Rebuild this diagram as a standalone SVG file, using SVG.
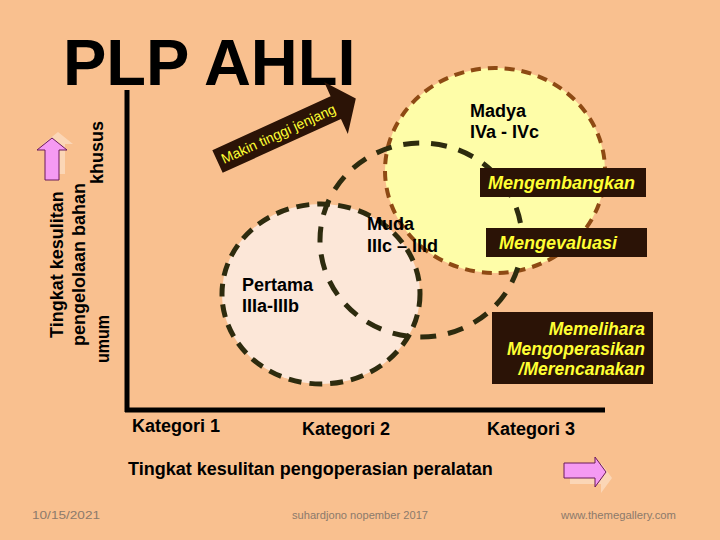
<svg xmlns="http://www.w3.org/2000/svg" width="720" height="540" viewBox="0 0 720 540">
<defs>
<style>
.t{font-family:"Liberation Sans",Arial,sans-serif;font-weight:bold;fill:#000}
.lbl{font-size:18px}
.box{fill:#2B1306}
.yt{font-family:"Liberation Sans",Arial,sans-serif;font-weight:bold;font-style:italic;fill:#FFFF33}
.foot{font-family:"Liberation Sans",Arial,sans-serif;font-size:11px;fill:#8C7A6B}
.dk{fill:none;stroke:#2D2B0E;stroke-width:5}
.pink{fill:#F59AF3;stroke:#6A1A5A;stroke-width:1}
.shadow{fill:#FFFFFF;fill-opacity:0.35}
</style>
</defs>
<rect width="720" height="540" fill="#F9C08F"/>

<text class="t" x="63" y="85" font-size="65">PLP AHLI</text>

<g id="axes">
<line x1="127" y1="90" x2="127" y2="412" stroke="#000" stroke-width="5"/>
<line x1="125" y1="410" x2="605" y2="410" stroke="#000" stroke-width="5"/>
</g>

<g id="pertama">
<ellipse cx="321" cy="294" rx="99" ry="90" class="dk" style="fill:#FCE7D8" stroke-dasharray="13 8"/>
<text class="t lbl" x="242" y="291">Pertama</text>
<text class="t lbl" x="242" y="312">IIIa-IIIb</text>
</g>

<g id="madya">
<ellipse cx="495" cy="170.5" rx="110" ry="102.5" fill="#FEFDA8" stroke="#8E4A14" stroke-width="4" stroke-dasharray="10 7"/>
<text class="t lbl" x="470" y="117">Madya</text>
<text class="t lbl" x="470" y="138">IVa - IVc</text>
</g>

<g id="muda">
<ellipse cx="421" cy="240" rx="101" ry="97" class="dk" stroke-dasharray="16 12"/>
<text class="t lbl" x="367" y="230">Muda</text>
<text class="t lbl" x="367" y="252">IIIc – IIId</text>
</g>

<g id="mengembangkan">
<rect class="box" x="480" y="168" width="166" height="29"/>
<text class="yt" x="488" y="189" font-size="18">Mengembangkan</text>
</g>

<g id="mengevaluasi">
<rect class="box" x="486" y="228" width="161" height="29"/>
<text class="yt" x="499" y="249" font-size="18">Mengevaluasi</text>
</g>

<g id="memelihara">
<rect class="box" x="492" y="312" width="161" height="72"/>
<text class="yt" x="645" y="335" font-size="17.5" text-anchor="end">Memelihara</text>
<text class="yt" x="645" y="355" font-size="17.5" text-anchor="end">Mengoperasikan</text>
<text class="yt" x="645" y="375" font-size="17.5" text-anchor="end">/Merencanakan</text>
</g>

<g id="jenjang-arrow" transform="translate(217.5,161.5) rotate(-24.5)">
<path d="M0,-12.5 L130,-12.5 L130,-28 L152,0 L130,29 L130,12.5 L0,12.5 Z" fill="#2B1306"/>
<text x="5" y="5" font-family="'Liberation Sans',Arial,sans-serif" font-size="14" fill="#FFFF33" textLength="124" lengthAdjust="spacingAndGlyphs">Makin tinggi jenjang</text>
</g>

<g id="y-axis-labels">
<text class="t lbl" transform="translate(63,338) rotate(-90)">Tingkat kesulitan</text>
<text class="t lbl" transform="translate(85,346) rotate(-90)">pengelolaan bahan</text>
<text class="t lbl" transform="translate(109,363) rotate(-90)" textLength="48" lengthAdjust="spacingAndGlyphs">umum</text>
<text class="t lbl" transform="translate(103,184) rotate(-90)">khusus</text>
</g>

<g id="up-arrow">
<path class="shadow" d="M58,132 L73,144 L65,144 L65,174 L49,174 L49,144 L43,144 Z"/>
<path class="pink" d="M52,138 L67,150 L59,150 L59,180 L45,180 L45,150 L37,150 Z"/>
</g>

<g id="x-axis-labels">
<text class="t lbl" x="132" y="432">Kategori 1</text>
<text class="t lbl" x="302" y="435">Kategori 2</text>
<text class="t lbl" x="487" y="435">Kategori 3</text>
<text class="t lbl" x="128" y="475">Tingkat kesulitan pengoperasian peralatan</text>
</g>

<g id="right-arrow">
<path class="shadow" d="M570,469 L601,469 L601,463 L612,478 L601,493 L601,484 L570,484 Z"/>
<path class="pink" d="M564,463 L595,463 L595,457 L606,472 L595,487 L595,478 L564,478 Z"/>
</g>

<g id="footer">
<text class="foot" x="32" y="519" textLength="68" lengthAdjust="spacingAndGlyphs">10/15/2021</text>
<text class="foot" x="292" y="519" textLength="136" lengthAdjust="spacingAndGlyphs">suhardjono nopember 2017</text>
<text class="foot" x="561" y="519" textLength="115" lengthAdjust="spacingAndGlyphs">www.themegallery.com</text>
</g>
</svg>
